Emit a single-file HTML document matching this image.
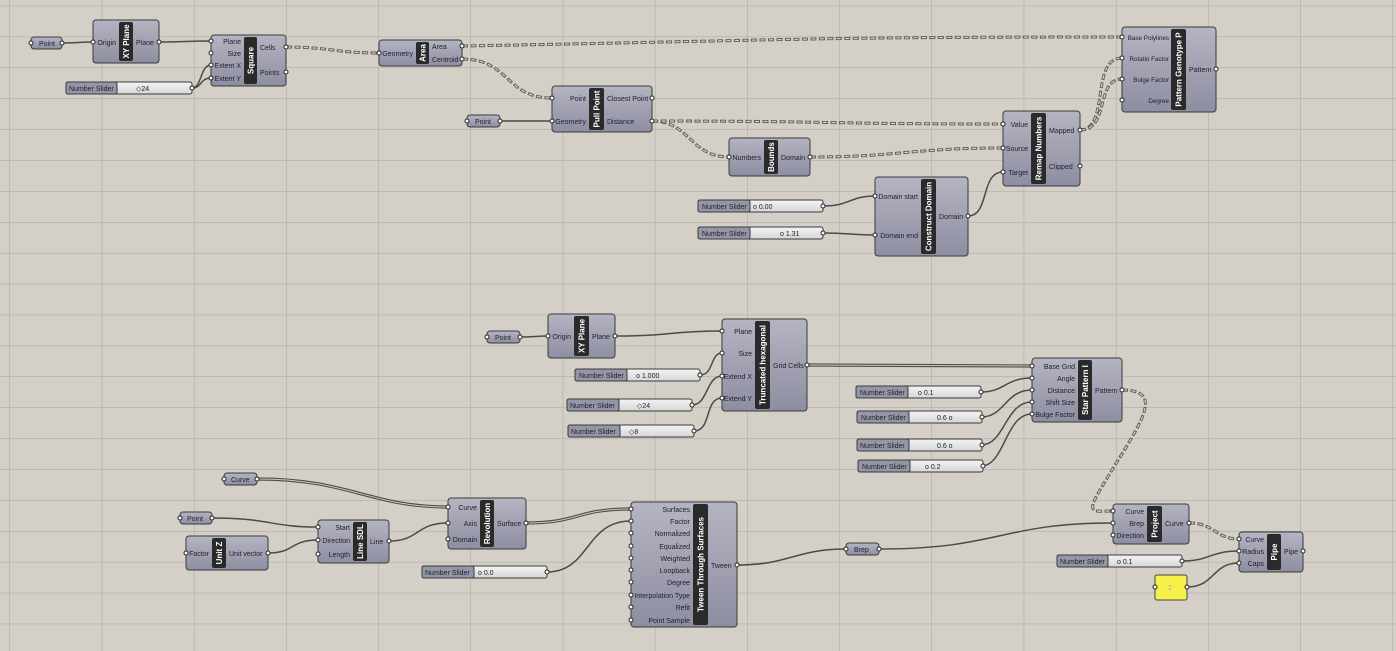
<!DOCTYPE html>
<html><head><meta charset="utf-8"><style>
html,body{margin:0;padding:0;background:#d4d0c8;}
svg{display:block;font-family:"Liberation Sans",sans-serif;}
.c{fill:url(#gc);stroke:#3a3a3a;stroke-width:1;}
.s{fill:#2a2a2a;}
.t{font-size:7px;fill:#1e1e2a;}
.tr{font-size:7px;fill:#1e1e2a;text-anchor:end;}
.trs{font-size:6.3px;fill:#1e1e2a;text-anchor:end;}
.tt{font-size:8px;font-weight:bold;fill:#fff;text-anchor:middle;}
.p{fill:#fff;stroke:#222;stroke-width:1;}
.w{fill:none;stroke:#4d4b48;stroke-width:1.5;}
.ww{fill:none;stroke:#4d4b48;stroke-width:3.2;}
.wi{fill:none;stroke:#cfcbc3;stroke-width:1;}
.d{fill:none;stroke:#5e5c58;stroke-width:3;stroke-dasharray:6 2.5;}
.di{fill:none;stroke:#d8d4cc;stroke-width:1.2;stroke-dasharray:4 4.5;stroke-dashoffset:-1;}
.sl{fill:#9496a8;stroke:#3a3a3a;}
.sv{fill:url(#gs);stroke:#3a3a3a;}
.par{fill:url(#gc);stroke:#3a3a3a;}
</style></head><body>
<svg width="1396" height="651" viewBox="0 0 1396 651" xmlns="http://www.w3.org/2000/svg">
<defs>
<linearGradient id="gc" x1="0" y1="0" x2="0" y2="1"><stop offset="0" stop-color="#b4b4c2"/><stop offset="1" stop-color="#8e8ea2"/></linearGradient>
<linearGradient id="gs" x1="0" y1="0" x2="0" y2="1"><stop offset="0" stop-color="#f4f4f4"/><stop offset="1" stop-color="#d6d6d6"/></linearGradient>
<pattern id="grid" x="9.5" y="5.7" width="92.2" height="30.9" patternUnits="userSpaceOnUse">
<path d="M0 0V30.9M0 0H92.2" stroke="#a9a59f" stroke-width="1" fill="none"/></pattern>
</defs>
<rect width="1396" height="651" fill="#d4d0c8"/>
<rect width="1396" height="651" fill="url(#grid)"/>

<g>
<path class="w" d="M62 43 C78 43,78 42,93 42"/>
<path class="w" d="M159 42 C185 42,185 41,211 41"/>
<path class="w" d="M192 88 C202 88,200 65,211 65"/>
<path class="w" d="M192 88 C202 88,200 78,211 78"/>
<path class="d" d="M286 47 C330 47,335 53,379 53"/><path class="di" d="M286 47 C330 47,335 53,379 53"/>
<path class="d" d="M462 46 C800 40,800 37,1122 37"/><path class="di" d="M462 46 C800 40,800 37,1122 37"/>
<path class="d" d="M462 59 C510 59,505 98,552 98"/><path class="di" d="M462 59 C510 59,505 98,552 98"/>
<path class="w" d="M500 121 C525 121,525 121,552 121"/>
<path class="d" d="M652 121 C690 121,690 157,729 157"/><path class="di" d="M652 121 C690 121,690 157,729 157"/>
<path class="d" d="M652 121 C830 121,830 124,1003 124"/><path class="di" d="M652 121 C830 121,830 124,1003 124"/>
<path class="d" d="M810 157 C900 157,910 148,1003 148"/><path class="di" d="M810 157 C900 157,910 148,1003 148"/>
<path class="w" d="M968 216 C990 216,980 172,1003 172"/>
<path class="w" d="M823 206 C850 206,850 196,875 196"/>
<path class="w" d="M823 233 C850 233,850 235,875 235"/>
<path class="d" d="M1080 130 C1110 130,1090 58,1122 58"/><path class="di" d="M1080 130 C1110 130,1090 58,1122 58"/>
<path class="d" d="M1080 130 C1110 130,1095 79,1122 79"/><path class="di" d="M1080 130 C1110 130,1095 79,1122 79"/>

<path class="w" d="M520 337 C535 337,535 336,548 336"/>
<path class="w" d="M615 336 C670 336,670 331,722 331"/>
<path class="w" d="M700 375 C714 375,710 353,722 353"/>
<path class="w" d="M692 405 C708 405,706 376,722 376"/>
<path class="w" d="M694 431 C712 431,704 398,722 398"/>
<path class="ww" d="M807 365 C920 365,920 366,1032 366"/><path class="wi" d="M807 365 C920 365,920 366,1032 366"/>
<path class="w" d="M981 392 C1005 392,1005 378,1032 378"/>
<path class="w" d="M981 417 C1005 417,1005 390,1032 390"/>
<path class="w" d="M981 445 C1005 445,1005 402,1032 402"/>
<path class="w" d="M981 466 C1005 466,1005 414,1032 414"/>
<path class="d" d="M1122 390 C1170 390,1135 430,1100 490 C1085 515,1095 511,1113 511"/><path class="di" d="M1122 390 C1170 390,1135 430,1100 490 C1085 515,1095 511,1113 511"/>

<path class="ww" d="M257 479 C350 479,370 507,448 507"/><path class="wi" d="M257 479 C350 479,370 507,448 507"/>
<path class="w" d="M212 518 C270 518,270 527,318 527"/>
<path class="w" d="M268 553 C295 553,290 540,318 540"/>
<path class="w" d="M389 541 C420 541,415 523,448 523"/>
<path class="ww" d="M526 523 C580 523,575 509,631 509"/><path class="wi" d="M526 523 C580 523,575 509,631 509"/>
<path class="w" d="M547 572 C590 572,585 521,631 521"/>
<path class="w" d="M737 565 C790 565,795 549,846 549"/>
<path class="w" d="M879 549 C1000 549,1000 523,1113 523"/>
<path class="d" d="M1189 523 C1215 523,1215 539,1239 539"/><path class="di" d="M1189 523 C1215 523,1215 539,1239 539"/>
<path class="w" d="M1182 561 C1210 561,1210 551,1239 551"/>
<path class="w" d="M1187 587 C1215 587,1212 563,1239 563"/>
</g>

<g>
<rect class="par" x="31" y="37" width="31" height="12" rx="3"/><text class="t" x="39" y="46">Point</text>
<rect class="par" x="467" y="115" width="33" height="12" rx="3"/><text class="t" x="475" y="124">Point</text>
<rect class="par" x="487" y="331" width="33" height="12" rx="3"/><text class="t" x="495" y="340">Point</text>
<rect class="par" x="224" y="473" width="33" height="12" rx="3"/><text class="t" x="231" y="482">Curve</text>
<rect class="par" x="180" y="512" width="32" height="12" rx="3"/><text class="t" x="187" y="521">Point</text>
<rect class="par" x="846" y="543" width="33" height="12" rx="3"/><text class="t" x="854" y="552">Brep</text>
<rect x="1155" y="575" width="32" height="25" rx="2" fill="#f5f04a" stroke="#444"/><text class="t" x="1168" y="590" style="fill:#aaa">2</text>
</g>

<g>
<rect class="sv" x="66" y="82" width="126" height="12" rx="2"/><rect class="sl" x="66" y="82" width="51" height="12" rx="2"/><text class="t" x="69" y="91">Number Slider</text><text class="t" x="136" y="91">◇24</text>
<rect class="sv" x="698" y="200" width="125" height="12" rx="2"/><rect class="sl" x="698" y="200" width="52" height="12" rx="2"/><text class="t" x="702" y="209">Number Slider</text><text class="t" x="753" y="209">o 0.00</text>
<rect class="sv" x="698" y="227" width="125" height="12" rx="2"/><rect class="sl" x="698" y="227" width="52" height="12" rx="2"/><text class="t" x="702" y="236">Number Slider</text><text class="t" x="780" y="236">o 1.31</text>
<rect class="sv" x="575" y="369" width="125" height="12" rx="2"/><rect class="sl" x="575" y="369" width="52" height="12" rx="2"/><text class="t" x="579" y="378">Number Slider</text><text class="t" x="636" y="378">o 1.000</text>
<rect class="sv" x="567" y="399" width="125" height="12" rx="2"/><rect class="sl" x="567" y="399" width="52" height="12" rx="2"/><text class="t" x="570" y="408">Number Slider</text><text class="t" x="637" y="408">◇24</text>
<rect class="sv" x="568" y="425" width="126" height="12" rx="2"/><rect class="sl" x="568" y="425" width="52" height="12" rx="2"/><text class="t" x="571" y="434">Number Slider</text><text class="t" x="629" y="434">◇8</text>
<rect class="sv" x="856" y="386" width="125" height="12" rx="2"/><rect class="sl" x="856" y="386" width="52" height="12" rx="2"/><text class="t" x="860" y="395">Number Slider</text><text class="t" x="918" y="395">o 0.1</text>
<rect class="sv" x="857" y="411" width="125" height="12" rx="2"/><rect class="sl" x="857" y="411" width="52" height="12" rx="2"/><text class="t" x="861" y="420">Number Slider</text><text class="t" x="937" y="420">0.6 o</text>
<rect class="sv" x="857" y="439" width="125" height="12" rx="2"/><rect class="sl" x="857" y="439" width="52" height="12" rx="2"/><text class="t" x="860" y="448">Number Slider</text><text class="t" x="937" y="448">0.6 o</text>
<rect class="sv" x="858" y="460" width="125" height="12" rx="2"/><rect class="sl" x="858" y="460" width="52" height="12" rx="2"/><text class="t" x="862" y="469">Number Slider</text><text class="t" x="925" y="469">o 0.2</text>
<rect class="sv" x="1057" y="555" width="125" height="12" rx="2"/><rect class="sl" x="1057" y="555" width="51" height="12" rx="2"/><text class="t" x="1060" y="564">Number Slider</text><text class="t" x="1117" y="564">o 0.1</text>
<rect class="sv" x="422" y="566" width="125" height="12" rx="2"/><rect class="sl" x="422" y="566" width="52" height="12" rx="2"/><text class="t" x="425" y="575">Number Slider</text><text class="t" x="478" y="575">o 0.0</text>
</g>

<rect class="c" x="93" y="20" width="66" height="43" rx="3"/><rect class="s" x="119" y="22" width="14" height="39" rx="2"/>
<text class="tt" transform="translate(129,41.5) rotate(-90)">XY Plane</text>
<text class="tr" x="116" y="45">Origin</text><text class="t" x="136" y="45">Plane</text>
<rect class="c" x="211" y="35" width="75" height="51" rx="3"/><rect class="s" x="244" y="37" width="13" height="47" rx="2"/>
<text class="tt" transform="translate(253.5,60.5) rotate(-90)">Square</text>
<text class="tr" x="241" y="44">Plane</text><text class="tr" x="241" y="56">Size</text><text class="tr" x="241" y="68">Extent X</text><text class="tr" x="241" y="81">Extent Y</text>
<text class="t" x="260" y="50">Cells</text><text class="t" x="260" y="75">Points</text>
<rect class="c" x="379" y="40" width="83" height="26" rx="3"/><rect class="s" x="416" y="42" width="13" height="22" rx="2"/>
<text class="tt" transform="translate(425.5,53) rotate(-90)">Area</text>
<text class="tr" x="413" y="56">Geometry</text><text class="t" x="432" y="49">Area</text><text class="t" x="432" y="62">Centroid</text>
<rect class="c" x="552" y="86" width="100" height="46" rx="3"/><rect class="s" x="589" y="88" width="15" height="42" rx="2"/>
<text class="tt" transform="translate(599.5,109) rotate(-90)">Pull Point</text>
<text class="tr" x="586" y="101">Point</text><text class="tr" x="586" y="124">Geometry</text>
<text class="t" x="607" y="101">Closest Point</text><text class="t" x="607" y="124">Distance</text>
<rect class="c" x="729" y="138" width="81" height="38" rx="3"/><rect class="s" x="764" y="140" width="14" height="34" rx="2"/>
<text class="tt" transform="translate(774,157) rotate(-90)">Bounds</text>
<text class="tr" x="761" y="160">Numbers</text><text class="t" x="781" y="160">Domain</text>
<rect class="c" x="1003" y="111" width="77" height="75" rx="3"/><rect class="s" x="1031" y="113" width="15" height="71" rx="2"/>
<text class="tt" transform="translate(1041.5,148.5) rotate(-90)">Remap Numbers</text>
<text class="tr" x="1028" y="127">Value</text><text class="tr" x="1028" y="151">Source</text><text class="tr" x="1028" y="175">Target</text>
<text class="t" x="1049" y="133">Mapped</text><text class="t" x="1049" y="169">Clipped</text>
<rect class="c" x="875" y="177" width="93" height="79" rx="3"/><rect class="s" x="921" y="179" width="15" height="75" rx="2"/>
<text class="tt" transform="translate(931.5,216.5) rotate(-90)">Construct Domain</text>
<text class="tr" x="918" y="199">Domain start</text><text class="tr" x="918" y="238">Domain end</text><text class="t" x="939" y="219">Domain</text>
<rect class="c" x="1122" y="27" width="94" height="85" rx="3"/><rect class="s" x="1171" y="29" width="15" height="81" rx="2"/>
<text class="tt" transform="translate(1181.5,69.5) rotate(-90)">Pattern Genotype P</text>
<text class="trs" x="1169" y="40">Base Polylines</text><text class="trs" x="1169" y="61">Rotatio Factor</text><text class="trs" x="1169" y="82">Bulge Factor</text><text class="trs" x="1169" y="103">Degree</text>
<text class="t" x="1189" y="72">Pattern</text>
<rect class="c" x="548" y="314" width="67" height="44" rx="3"/><rect class="s" x="574" y="316" width="15" height="40" rx="2"/>
<text class="tt" transform="translate(584.5,336) rotate(-90)">XY Plane</text>
<text class="tr" x="571" y="339">Origin</text><text class="t" x="592" y="339">Plane</text>
<rect class="c" x="722" y="319" width="85" height="92" rx="3"/><rect class="s" x="755" y="321" width="15" height="88" rx="2"/>
<text class="tt" transform="translate(765.5,365) rotate(-90)">Truncated hexagonal</text>
<text class="tr" x="752" y="334">Plane</text><text class="tr" x="752" y="356">Size</text><text class="tr" x="752" y="379">Extend X</text><text class="tr" x="752" y="401">Extend Y</text>
<text class="t" x="773" y="368">Grid Cells</text>
<rect class="c" x="1032" y="358" width="90" height="64" rx="3"/><rect class="s" x="1078" y="360" width="14" height="60" rx="2"/>
<text class="tt" transform="translate(1088,390) rotate(-90)">Star Pattern I</text>
<text class="tr" x="1075" y="369">Base Grid</text><text class="tr" x="1075" y="381">Angle</text><text class="tr" x="1075" y="393">Distance</text><text class="tr" x="1075" y="405">Shift Size</text><text class="tr" x="1075" y="417">Bulge Factor</text>
<text class="t" x="1095" y="393">Pattern</text>
<rect class="c" x="1113" y="504" width="76" height="40" rx="3"/><rect class="s" x="1147" y="506" width="15" height="36" rx="2"/>
<text class="tt" transform="translate(1157.5,524) rotate(-90)">Project</text>
<text class="tr" x="1144" y="514">Curve</text><text class="tr" x="1144" y="526">Brep</text><text class="tr" x="1144" y="538">Direction</text><text class="t" x="1165" y="526">Curve</text>
<rect class="c" x="1239" y="532" width="64" height="40" rx="3"/><rect class="s" x="1267" y="534" width="14" height="36" rx="2"/>
<text class="tt" transform="translate(1277,552) rotate(-90)">Pipe</text>
<text class="tr" x="1264" y="542">Curve</text><text class="tr" x="1264" y="554">Radius</text><text class="tr" x="1264" y="566">Caps</text><text class="t" x="1284" y="554">Pipe</text>
<rect class="c" x="186" y="536" width="82" height="34" rx="3"/><rect class="s" x="212" y="538" width="14" height="30" rx="2"/>
<text class="tt" transform="translate(222,553) rotate(-90)">Unit Z</text>
<text class="tr" x="209" y="556">Factor</text><text class="t" x="229" y="556">Unit vector</text>
<rect class="c" x="318" y="520" width="71" height="43" rx="3"/><rect class="s" x="353" y="522" width="14" height="39" rx="2"/>
<text class="tt" transform="translate(363,541.5) rotate(-90)">Line SDL</text>
<text class="tr" x="350" y="530">Start</text><text class="tr" x="350" y="543">Direction</text><text class="tr" x="350" y="557">Length</text><text class="t" x="370" y="544">Line</text>
<rect class="c" x="448" y="498" width="78" height="51" rx="3"/><rect class="s" x="480" y="500" width="14" height="47" rx="2"/>
<text class="tt" transform="translate(490,523.5) rotate(-90)">Revolution</text>
<text class="tr" x="477" y="510">Curve</text><text class="tr" x="477" y="526">Axis</text><text class="tr" x="477" y="542">Domain</text><text class="t" x="497" y="526">Surface</text>
<rect class="c" x="631" y="502" width="106" height="125" rx="3"/><rect class="s" x="693" y="504" width="15" height="121" rx="2"/>
<text class="tt" transform="translate(703.5,564.5) rotate(-90)">Tween Through Surfaces</text>
<text class="tr" x="690" y="512">Surfaces</text><text class="tr" x="690" y="524">Factor</text><text class="tr" x="690" y="536">Normalized</text><text class="tr" x="690" y="549">Equalized</text><text class="tr" x="690" y="561">Weighted</text><text class="tr" x="690" y="573">Loopback</text><text class="tr" x="690" y="585">Degree</text><text class="tr" x="690" y="598">Interpolation Type</text><text class="tr" x="690" y="610">Refit</text><text class="tr" x="690" y="623">Point Sample</text>
<text class="t" x="711" y="568">Tween</text>

<g class="p">
<circle cx="31" cy="43" r="2"/><circle cx="62" cy="43" r="2"/>
<circle cx="93" cy="42" r="2"/><circle cx="159" cy="42" r="2"/>
<circle cx="211" cy="41" r="2"/><circle cx="211" cy="53" r="2"/><circle cx="211" cy="65" r="2"/><circle cx="211" cy="78" r="2"/><circle cx="286" cy="47" r="2"/><circle cx="286" cy="72" r="2"/>
<circle cx="192" cy="88" r="2"/>
<circle cx="379" cy="53" r="2"/><circle cx="462" cy="46" r="2"/><circle cx="462" cy="59" r="2"/>
<circle cx="552" cy="98" r="2"/><circle cx="552" cy="121" r="2"/><circle cx="652" cy="98" r="2"/><circle cx="652" cy="121" r="2"/>
<circle cx="467" cy="121" r="2"/><circle cx="500" cy="121" r="2"/>
<circle cx="729" cy="157" r="2"/><circle cx="810" cy="157" r="2"/>
<circle cx="1003" cy="124" r="2"/><circle cx="1003" cy="148" r="2"/><circle cx="1003" cy="172" r="2"/><circle cx="1080" cy="130" r="2"/><circle cx="1080" cy="166" r="2"/>
<circle cx="875" cy="196" r="2"/><circle cx="875" cy="235" r="2"/><circle cx="968" cy="216" r="2"/>
<circle cx="823" cy="206" r="2"/><circle cx="823" cy="233" r="2"/>
<circle cx="1122" cy="37" r="2"/><circle cx="1122" cy="58" r="2"/><circle cx="1122" cy="79" r="2"/><circle cx="1122" cy="100" r="2"/><circle cx="1216" cy="69" r="2"/>
<circle cx="487" cy="337" r="2"/><circle cx="520" cy="337" r="2"/>
<circle cx="548" cy="336" r="2"/><circle cx="615" cy="336" r="2"/>
<circle cx="722" cy="331" r="2"/><circle cx="722" cy="353" r="2"/><circle cx="722" cy="376" r="2"/><circle cx="722" cy="398" r="2"/><circle cx="807" cy="365" r="2"/>
<circle cx="700" cy="375" r="2"/><circle cx="692" cy="405" r="2"/><circle cx="694" cy="431" r="2"/>
<circle cx="1032" cy="366" r="2"/><circle cx="1032" cy="378" r="2"/><circle cx="1032" cy="390" r="2"/><circle cx="1032" cy="402" r="2"/><circle cx="1032" cy="414" r="2"/><circle cx="1122" cy="390" r="2"/>
<circle cx="981" cy="392" r="2"/><circle cx="982" cy="417" r="2"/><circle cx="982" cy="445" r="2"/><circle cx="983" cy="466" r="2"/>
<circle cx="1113" cy="511" r="2"/><circle cx="1113" cy="523" r="2"/><circle cx="1113" cy="535" r="2"/><circle cx="1189" cy="523" r="2"/>
<circle cx="1239" cy="539" r="2"/><circle cx="1239" cy="551" r="2"/><circle cx="1239" cy="563" r="2"/><circle cx="1303" cy="551" r="2"/>
<circle cx="1182" cy="561" r="2"/><circle cx="1155" cy="587" r="2"/><circle cx="1187" cy="587" r="2"/>
<circle cx="846" cy="549" r="2"/><circle cx="879" cy="549" r="2"/>
<circle cx="224" cy="479" r="2"/><circle cx="257" cy="479" r="2"/><circle cx="180" cy="518" r="2"/><circle cx="212" cy="518" r="2"/>
<circle cx="186" cy="553" r="2"/><circle cx="268" cy="553" r="2"/>
<circle cx="318" cy="527" r="2"/><circle cx="318" cy="540" r="2"/><circle cx="318" cy="554" r="2"/><circle cx="389" cy="541" r="2"/>
<circle cx="448" cy="507" r="2"/><circle cx="448" cy="523" r="2"/><circle cx="448" cy="539" r="2"/><circle cx="526" cy="523" r="2"/>
<circle cx="547" cy="572" r="2"/>
<circle cx="631" cy="509" r="2"/><circle cx="631" cy="521" r="2"/><circle cx="631" cy="533" r="2"/><circle cx="631" cy="546" r="2"/><circle cx="631" cy="558" r="2"/><circle cx="631" cy="570" r="2"/><circle cx="631" cy="582" r="2"/><circle cx="631" cy="595" r="2"/><circle cx="631" cy="607" r="2"/><circle cx="631" cy="620" r="2"/><circle cx="737" cy="565" r="2"/>
</g>
</svg>
</body></html>
